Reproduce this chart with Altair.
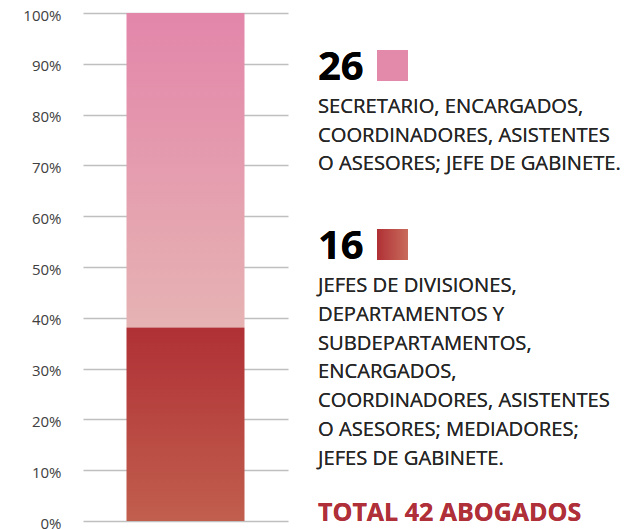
import altair as alt
import pandas as pd

# ---- data ----
groups = ["JEFES", "SECRETARIO"]
counts = [16, 26]
total = sum(counts)
y_ticks = [0, 0.1, 0.2, 0.3, 0.4, 0.5, 0.6, 0.7, 0.8, 0.9, 1.0]

text_26 = ["SECRETARIO, ENCARGADOS,",
           "COORDINADORES, ASISTENTES",
           "O ASESORES; JEFE DE GABINETE."]
text_16 = ["JEFES DE DIVISIONES,",
           "DEPARTAMENTOS Y",
           "SUBDEPARTAMENTOS,",
           "ENCARGADOS,",
           "COORDINADORES, ASISTENTES",
           "O ASESORES; MEDIADORES;",
           "JEFES DE GABINETE."]
total_label = f"TOTAL {total} ABOGADOS"

starts, ends = [], []
acc = 0
for c in counts:
    starts.append(acc / total)
    acc += c
    ends.append(acc / total)
df = pd.DataFrame({"grp": groups, "count": counts, "start": starts, "end": ends,
                   "col": ["A", "A"]})

FONT = "Open Sans"

grad_low = alt.Gradient(gradient="linear",
                        stops=[alt.GradientStop(color="#B03035", offset=0),
                               alt.GradientStop(color="#C15F4E", offset=1)],
                        x1=0, x2=0, y1=0, y2=1)
grad_high = alt.Gradient(gradient="linear",
                         stops=[alt.GradientStop(color="#E386AA", offset=0),
                                alt.GradientStop(color="#E6B3B3", offset=1)],
                         x1=0, x2=0, y1=0, y2=1)
grad_sq = alt.Gradient(gradient="linear",
                       stops=[alt.GradientStop(color="#B03035", offset=0),
                              alt.GradientStop(color="#C86C5C", offset=1)],
                       x1=0, x2=1, y1=0, y2=0)

yscale = alt.Scale(domain=[0, 1], nice=False)
yaxis = alt.Axis(format=".0%", values=y_ticks, grid=True, gridColor="#BFBFBF",
                 gridWidth=1.5, domain=False, ticks=False, labelPadding=22,
                 labelFontSize=15, labelFont=FONT, labelColor="#404040", title=None,
                 labelOffset=2)

base = alt.Chart(df)

low = base.transform_filter(alt.datum.grp == "JEFES").mark_bar(color=grad_low, width=118).encode(
    x=alt.X("col:N", axis=None),
    y=alt.Y("start:Q", scale=yscale, axis=yaxis),
    y2="end:Q")
high = base.transform_filter(alt.datum.grp == "SECRETARIO").mark_bar(color=grad_high, width=118).encode(
    x=alt.X("col:N", axis=None),
    y=alt.Y("start:Q", scale=yscale, axis=yaxis),
    y2="end:Q")

num26 = base.mark_text(text=str(counts[1]), font=FONT, fontWeight="bold", fontSize=40,
                       align="left", baseline="alphabetic", color="#000000").encode(
    x=alt.value(235), y=alt.value(67))
sq26 = base.mark_rect(color="#E389AA").encode(
    x=alt.value(294), x2=alt.value(325), y=alt.value(37), y2=alt.value(68))
body26 = base.mark_text(text=text_26, font=FONT, fontSize=20.2, lineHeight=28.5,
                        align="left", baseline="alphabetic", color="#262626").encode(
    x=alt.value(235), y=alt.value(100))

num16 = base.mark_text(text=str(counts[0]), font=FONT, fontWeight="bold", fontSize=40,
                       align="left", baseline="alphabetic", color="#000000").encode(
    x=alt.value(235), y=alt.value(246))
sq16 = base.mark_rect(color=grad_sq).encode(
    x=alt.value(294), x2=alt.value(325), y=alt.value(216), y2=alt.value(247))
body16 = base.mark_text(text=text_16, font=FONT, fontSize=20.2, lineHeight=28.8,
                        align="left", baseline="alphabetic", color="#262626").encode(
    x=alt.value(235), y=alt.value(279))

tot = base.mark_text(text=total_label, font=FONT, fontWeight="bold", fontSize=25,
                     align="left", baseline="alphabetic", color="#B0303A").encode(
    x=alt.value(235), y=alt.value(508))

chart = alt.layer(high, low, num26, sq26, body26, num16, sq16, body16, tot).properties(
    width=205, height=508,
    autosize=alt.AutoSizeParams(type="none"),
    padding={"left": 75, "top": 5, "right": 336, "bottom": 8},
    background="white",
).configure_view(stroke=None)

chart.save("out.html", embed_options={"renderer": "svg", "actions": False})
